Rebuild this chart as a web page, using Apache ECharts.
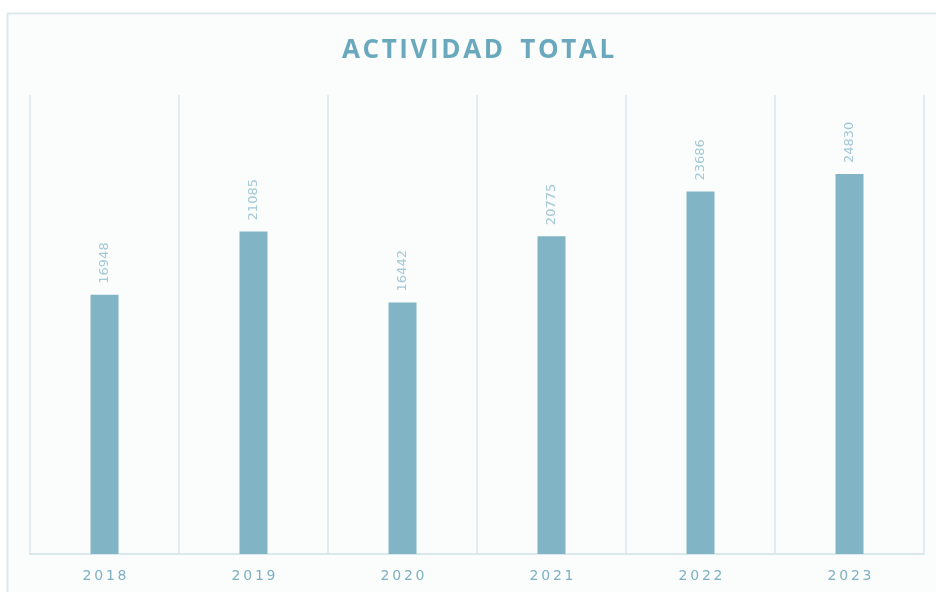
<!DOCTYPE html>
<html>
<head>
<meta charset="utf-8">
<script src="https://cdn.jsdelivr.net/npm/echarts@6/dist/echarts.min.js"></script>
<style>
  html, body { margin: 0; padding: 0; background: #ffffff; }
  #chart { width: 936px; height: 592px; }
</style>
</head>
<body>
<div id="chart"></div>
<script>
const years = ['2018', '2019', '2020', '2021', '2022', '2023']
const totals = [16948, 21085, 16442, 20775, 23686, 24830]

const spaced = (s, sep) => s.split('').join(sep)

const chart = echarts.init(document.getElementById('chart'))
chart.setOption({
  animation: false,
  backgroundColor: '#ffffff',
  graphic: [
    {
      type: 'rect',
      shape: { x: 7.5, y: 13.5, width: 940, height: 600 },
      style: { fill: '#fbfdfd', stroke: '#dbe9ed', lineWidth: 2 },
      z: -10,
    },
  ],
  title: {
    text: spaced('ACTIVIDAD', '\u200a') + '\u2002\u2009' + spaced('TOTAL', '\u200a'),
    left: 337,
    top: 33,
    textStyle: {
      fontFamily: 'Open Sans',
      fontWeight: 'bold',
      fontSize: 26,
      color: '#6aa9bd',
    },
  },
  grid: { left: 30, right: 12, top: 95, bottom: 38, containLabel: false },
  xAxis: {
    type: 'category',
    data: years,
    axisLine: { lineStyle: { color: '#d9e8ec', width: 2 } },
    axisTick: { show: false },
    splitLine: { show: true, lineStyle: { color: '#e1edf0', width: 2 } },
    axisLabel: {
      color: '#7fb0c2',
      fontFamily: 'DejaVu Sans',
      fontSize: 14,
      margin: 15,
      formatter: (v) => spaced(v, '\u2009'),
    },
  },
  yAxis: {
    type: 'value',
    min: 0,
    max: 30000,
    show: false,
    splitLine: { show: false },
  },
  series: [
    {
      type: 'bar',
      data: totals,
      barWidth: 28,
      itemStyle: { color: '#81b5c6' },
      label: {
        show: true,
        position: 'top',
        rotate: 90,
        align: 'left',
        verticalAlign: 'middle',
        distance: 11,
        color: '#a3c8d6',
        fontFamily: 'DejaVu Sans',
        fontSize: 13,
      },
    },
  ],
})
</script>
</body>
</html>
